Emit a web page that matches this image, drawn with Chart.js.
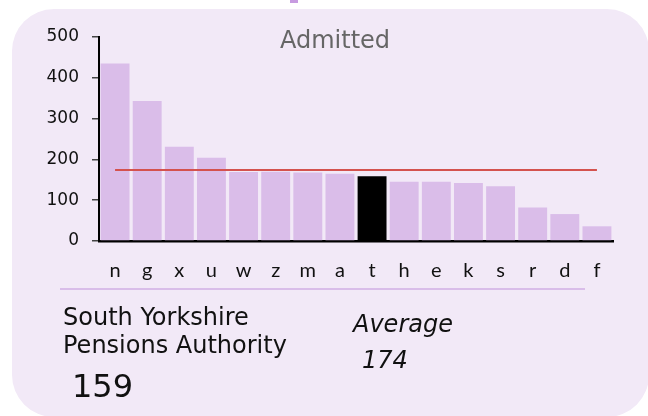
<!DOCTYPE html>
<html>
<head>
<meta charset="utf-8">
<script src="https://cdn.jsdelivr.net/npm/chart.js@4.4.1/dist/chart.umd.min.js"></script>
<style>
  html, body { margin: 0; padding: 0; background: #ffffff; }
  body { width: 648px; height: 416px; position: relative; overflow: hidden; font-family: "DejaVu Sans", sans-serif; }
  #panel { position: absolute; left: 12px; top: 9px; width: 637px; height: 408px; background: #f2e9f7; border-radius: 42px; }
  #tab { position: absolute; left: 290px; top: 0; width: 8px; height: 3px; background: #c79be0; }
  #chart { position: absolute; left: 0; top: 0; }
  #title { position: absolute; left: 280px; top: 27px; font-size: 24px; line-height: 26px; color: #666666; }
  #sep { position: absolute; left: 60px; top: 288px; width: 525px; height: 2px; background: #d9bde9; }
  .txt { position: absolute; color: #111111; white-space: nowrap; }
  #name { left: 63px; top: 303px; font-size: 24px; line-height: 28px; }
  #value { left: 72px; top: 369px; font-size: 32px; line-height: 34px; }
  #avgLbl { left: 353px; top: 311px; font-size: 24px; line-height: 26px; font-style: italic; }
  #avgVal { left: 362px; top: 347px; font-size: 24px; line-height: 26px; font-style: italic; }
</style>
</head>
<body>
<div id="panel"></div>
<div id="tab"></div>
<canvas id="chart" width="648" height="416"></canvas>
<div id="title">Admitted</div>
<div id="sep"></div>
<div class="txt" id="name">South Yorkshire<br>Pensions Authority</div>
<div class="txt" id="value">159</div>
<div class="txt" id="avgLbl">Average</div>
<div class="txt" id="avgVal">174</div>
<script>
"use strict"
// Daten
const categories = ["n", "g", "x", "u", "w", "z", "m", "a", "t", "h", "e", "k", "s", "r", "d", "f"];
const admitted = [435, 343, 231, 204, 169, 170, 168, 165, 159, 145, 145, 142, 134, 82, 66, 36];
const highlight = "t"; // die ausgewählte Kasse (schwarz)
const average = 174;
const yTicks = [0, 100, 200, 300, 400, 500];

const barColors = categories.map(c => c == highlight ? "#000000" : "#dabde9");
const avgLine = categories.map(() => average);

new Chart(document.getElementById("chart"), {
    data: {
        labels: categories,
        datasets: [{
            type: "line",
            data: avgLine,
            borderColor: "#d4524e",
            borderWidth: 2,
            pointRadius: 0,
            order: 0
        }, {
            type: "bar",
            data: admitted,
            backgroundColor: barColors,
            borderWidth: 0,
            barPercentage: 0.9,
            categoryPercentage: 1,
            order: 1
        }]
    },
    options: {
        responsive: false,
        animation: false,
        layout: { padding: { top: 37, right: 35, bottom: 0, left: 0 } },
        plugins: { legend: { display: false }, tooltip: { enabled: false } },
        scales: {
            x: {
                grid: { display: false },
                border: { color: "#000000", width: 2.5 },
                ticks: { color: "#111111", font: { family: "Lato", size: 20 }, padding: 10, maxRotation: 0 },
                afterFit: function (scale) { scale.height = 175; }
            },
            y: {
                min: 0,
                max: 500,
                afterBuildTicks: function (scale) { scale.ticks = yTicks.map(v => ({ value: v })); },
                grid: { drawOnChartArea: false, tickLength: 7, color: "#444444", lineWidth: 1.5 },
                border: { color: "#000000", width: 2 },
                ticks: { color: "#111111", font: { family: "DejaVu Sans", size: 17 }, padding: 13 },
                afterFit: function (scale) { scale.width = 99; }
            }
        }
    }
});
</script>
</body>
</html>
